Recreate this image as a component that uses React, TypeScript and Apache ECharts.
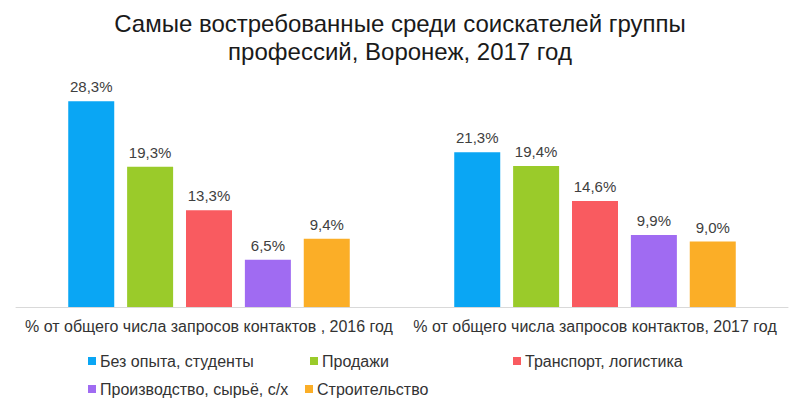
import React, { useEffect, useRef } from "react";
import * as echarts from "echarts";

const title = "Самые востребованные среди соискателей группы\nпрофессий, Воронеж, 2017 год";
const categories = [
  "% от общего числа запросов контактов , 2016 год",
  "% от общего числа запросов контактов, 2017 год",
];
const seriesNames = [
  "Без опыта, студенты",
  "Продажи",
  "Транспорт, логистика",
  "Производство, сырьё, с/х",
  "Строительство",
];
const bezOpyta = [28.3, 21.3];
const prodazhi = [19.3, 19.4];
const transport = [13.3, 14.6];
const proizvodstvo = [6.5, 9.9];
const stroitelstvo = [9.4, 9.0];
const seriesValues = [bezOpyta, prodazhi, transport, proizvodstvo, stroitelstvo];
const colors = ["#0AA6F4", "#9ACB2A", "#F95B60", "#A06BF2", "#FBAE27"];

const legendPos = [
  { left: 88, top: 353 },
  { left: 310, top: 353 },
  { left: 513, top: 353 },
  { left: 88, top: 381 },
  { left: 305, top: 381 },
];

export default function App() {
  const ref = useRef<HTMLDivElement>(null);
  useEffect(() => {
    if (!ref.current) return;
    const chart = echarts.init(ref.current, undefined, { renderer: "svg" });
    const font = "Liberation Sans, Arial, sans-serif";
    chart.setOption({
      animation: false,
      backgroundColor: "#ffffff",
      title: {
        text: title,
        left: "center",
        top: 4,
        textStyle: {
          fontFamily: font,
          fontSize: 24,
          fontWeight: "normal",
          color: "#1a1a1a",
          lineHeight: 28,
        },
      },
      legend: seriesNames.map((n, i) => ({
        data: [n],
        left: legendPos[i].left,
        top: legendPos[i].top,
        padding: 0,
        icon: "rect",
        itemWidth: 8,
        itemHeight: 8,
        itemGap: 4,
        selectedMode: false,
        textStyle: { fontFamily: font, fontSize: 16, color: "#333333", padding: [0, 0, 0, -1] },
      })),
      grid: { left: 16, right: 12, top: 89, bottom: 104 },
      xAxis: {
        type: "category",
        data: categories,
        axisLine: { lineStyle: { color: "#d9d9d9", width: 1 } },
        axisTick: { show: false },
        axisLabel: {
          fontFamily: font,
          fontSize: 16,
          color: "#333333",
          margin: 11,
          interval: 0,
        },
      },
      yAxis: {
        type: "value",
        min: 0,
        max: 30,
        show: false,
        splitLine: { show: false },
      },
      series: seriesNames.map((n, i) => ({
        name: n,
        type: "bar",
        data: seriesValues[i],
        barWidth: 46,
        barGap: "28%",
        itemStyle: { color: colors[i] },
        label: {
          show: true,
          position: "top",
          distance: 7,
          fontFamily: font,
          fontSize: 15,
          color: "#404040",
          formatter: (p: any) => p.value.toFixed(1).replace(".", ",") + "%",
        },
      })),
    });
    return () => chart.dispose();
  }, []);
  return <div ref={ref} style={{ width: 800, height: 411, margin: -8 }} />;
}
